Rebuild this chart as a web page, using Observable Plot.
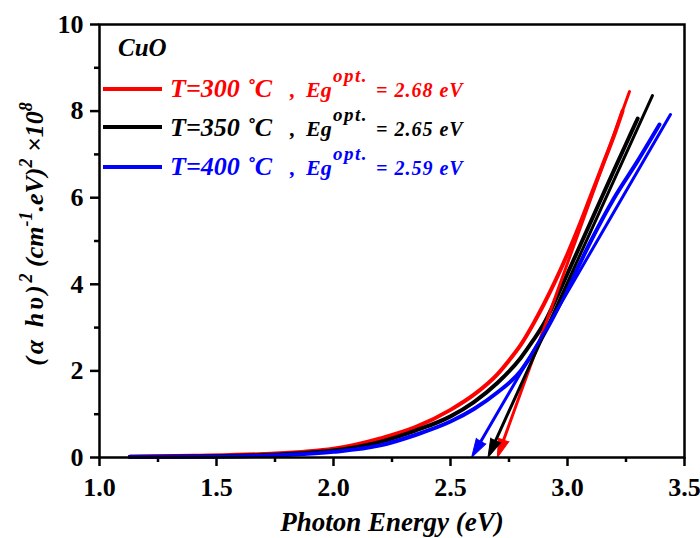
<!DOCTYPE html>
<html><head><meta charset="utf-8">
<script src="https://cdn.jsdelivr.net/npm/d3@7"></script>
<script src="https://cdn.jsdelivr.net/npm/@observablehq/plot@0.6"></script>
<style>body{margin:0;background:#fff}#chart{width:700px;height:538px}</style>
</head><body><div id="chart"></div>
<script>
// Data
const energy300 = [1.13,1.4,1.7,2.0,2.2,2.35,2.5,2.6,2.7,2.75,2.8,2.85,2.9,2.95,3.0,3.05,3.1,3.15,3.2,3.235];
const ahv300    = [0.02,0.04,0.08,0.2,0.44,0.7,1.1,1.45,1.92,2.24,2.6,3.05,3.55,4.1,4.7,5.35,6.05,6.75,7.45,8.0];
const energy350 = [1.13,1.5,1.8,2.0,2.2,2.35,2.5,2.6,2.7,2.8,2.85,2.9,2.95,3.0,3.05,3.1,3.15,3.2,3.25,3.3];
const ahv350    = [0.015,0.03,0.08,0.16,0.36,0.62,0.95,1.28,1.72,2.3,2.68,3.1,3.65,4.25,4.85,5.45,6.05,6.65,7.24,7.83];
const energy400 = [1.13,1.5,1.8,2.0,2.2,2.35,2.5,2.6,2.7,2.8,2.85,2.9,2.95,3.0,3.05,3.1,3.2,3.3,3.393];
const ahv400    = [0.01,0.02,0.06,0.13,0.28,0.52,0.83,1.12,1.5,2.0,2.4,2.85,3.35,3.9,4.45,5.0,6.0,6.85,7.69];

const temps = ["300","350","400"];
const egValues = ["2.68","2.65","2.59"];
const colors = ["#ff0000","#000000","#0000ff"];
// Tauc fit lines (top point -> intercept on energy axis)
const fitTopX = [3.265,3.363,3.44];
const fitTopY = [8.45,8.36,7.92];
const fitTipX = [2.70,2.66,2.59];

const xTicks = [1.0,1.5,2.0,2.5,3.0,3.5];
const xMinor = [1.25,1.75,2.25,2.75,3.25];
const yTicks = [0,2,4,6,8,10];
const yMinor = [1,3,5,7,9];

const W = 700, H = 538, ML = 99, MR = 16, MT = 24, MB = 81;
const xDomain = [1, 3.5], yDomain = [0, 10];

const energies = [energy300, energy350, energy400];
const values = [ahv300, ahv350, ahv400];
const curves = temps.flatMap((t,i)=>energies[i].map((e,j)=>({series:t, e, a:values[i][j]})));

// scales identical to the plot's, used only to orient the arrow heads
const sx = Plot.scale({x:{domain:xDomain, range:[ML, W-MR]}});
const sy = Plot.scale({y:{domain:yDomain, range:[H-MB, MT]}});
const fits = temps.map((t,i)=>{
  const dx = sx.apply(fitTipX[i]) - sx.apply(fitTopX[i]);
  const dy = sy.apply(0) - sy.apply(fitTopY[i]);
  return {series:t, x1:fitTopX[i], y1:fitTopY[i], x2:fitTipX[i], y2:0,
          angle: Math.atan2(dx, -dy) * 180 / Math.PI};
});

const font = '"Liberation Serif","Times New Roman",Times,serif';

const plot = Plot.plot({
  width:W, height:H,
  marginLeft:ML, marginRight:MR, marginTop:MT, marginBottom:MB,
  style:{fontFamily:font, fontWeight:"bold", background:"#fff", color:"#000", overflow:"visible"},
  x:{domain:xDomain},
  y:{domain:yDomain},
  color:{domain:temps, range:colors},
  marks:[
    Plot.axisX(xMinor,{tickSize:5, tickFormat:()=>"", strokeWidth:2.5, label:null}),
    Plot.axisX(xTicks,{tickSize:9, tickPadding:11, tickFormat:d3.format(".1f"), fontSize:26, fontWeight:"bold", strokeWidth:2.5, label:null}),
    Plot.axisY(yMinor,{tickSize:5, tickFormat:()=>"", strokeWidth:2.5, label:null}),
    Plot.axisY(yTicks,{tickSize:9, tickPadding:7, tickFormat:d3.format("d"), fontSize:26, fontWeight:"bold", strokeWidth:2.5, label:null}),
    Plot.line(curves,{x:"e", y:"a", z:"series", stroke:"series", strokeWidth:4, curve:"monotone-x"}),
    Plot.arrow(fits,{x1:"x1", y1:"y1", x2:"x2", y2:"y2", stroke:"series", strokeWidth:3, headLength:0, insetEnd:10}),
    Plot.vector(fits,{x:"x2", y:"y2", rotate:"angle", length:19, r:5.5, shape:"spike", anchor:"end", fill:"series", stroke:"series", strokeWidth:1}),
    Plot.frame({strokeWidth:2.5}),
    Plot.text(["Photon Energy (eV)"],{frameAnchor:"bottom", dy:54, fontSize:27, fontStyle:"italic", fontWeight:"bold", lineAnchor:"top"})
  ]
});
document.getElementById("chart").appendChild(plot);

const svg = d3.select(plot);

// Y axis label with superscripts
const ylab = svg.append("text")
  .attr("transform","translate(43,234) rotate(-90)")
  .attr("text-anchor","middle")
  .style("font-family",font).style("font-weight","bold").style("font-style","italic")
  .style("font-size","26px").attr("fill","#000");
const yParts = [["(α hυ)",0],["2",1],[" (cm",0],["-1",1],[".eV)",0],["2",1],[" ×10",0],["8",1]];
let raised = false;
yParts.forEach(([s,sup],k)=>{
  const t = ylab.append("tspan").text(s);
  if (k === 0) t.style("letter-spacing","3px");
  if (sup && !raised){ t.attr("dy",-11).style("font-size","18px"); raised = true; }
  else if (!sup && raised){ t.attr("dy",11); raised = false; }
  else if (sup) t.style("font-size","18px");
});

// Legend
const leg = svg.append("g").attr("text-anchor","start")
  .style("font-family",font).style("font-weight","bold").style("font-style","italic");
leg.append("text").attr("x",118).attr("y",56).attr("text-anchor","start").style("font-size","25px").attr("fill","#000").text("CuO");
const rowLineY = [89,127,167];
const rowBase = [97,136,175];
temps.forEach((t,i)=>{
  leg.append("line").attr("x1",103).attr("x2",162).attr("y1",rowLineY[i]).attr("y2",rowLineY[i])
    .attr("stroke",colors[i]).attr("stroke-width",4);
  const tx = leg.append("text").attr("y",rowBase[i]).attr("text-anchor","start").attr("fill",colors[i]);
  tx.append("tspan").attr("x",170).style("font-size","26px").text("T=" + t + " ˚C");
  tx.append("tspan").attr("x",290).style("font-size","22px").text(",");
  tx.append("tspan").attr("x",306).style("font-size","22px").text("Eg");
  tx.append("tspan").attr("x",333).attr("dy",-15).style("font-size","19px").style("letter-spacing","1.5px").text("opt.");
  tx.append("tspan").attr("x",376).attr("dy",15).style("font-size","20px").style("letter-spacing","1px").text("= " + egValues[i] + " eV");
});
</script></body></html>
